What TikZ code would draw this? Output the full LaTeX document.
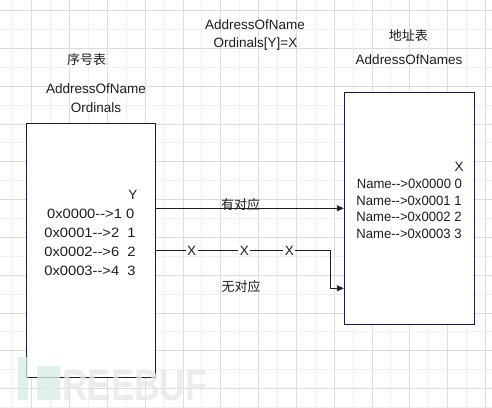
\documentclass[tikz,border=0pt]{standalone}
\usepackage{fontspec}
\setmainfont{Liberation Sans}
\newfontfamily\cjk{Noto Sans CJK SC}
\usetikzlibrary{arrows.meta}
\definecolor{gridminor}{HTML}{F0F0F0}
\definecolor{gridmajor}{HTML}{DCDCDC}
\definecolor{boxline}{HTML}{161B45}
\definecolor{ink}{HTML}{1E1E1E}
\definecolor{wmgreen}{HTML}{D8EDE2}
\definecolor{wmgray}{HTML}{E6E6E6}
\newcommand{\arw}{-{}-{}>}
\tikzset{
  txt/.style={inner sep=0pt, text=ink, font=\fontsize{13.5}{16}\selectfont},
  lefttxt/.style={txt, xscale=1.09},
  righttxt/.style={txt, xscale=0.97},
  cjktxt/.style={inner sep=0pt, text=ink, font=\fontsize{13}{16}\selectfont\cjk},
  tablebox/.style={draw=boxline, fill=white, line width=0.9pt, inner sep=0pt},
  conn/.style={draw=ink, line width=0.8pt},
  arr/.style={conn, -{Triangle[length=7pt,width=6pt]}},
  xmark/.style={txt, fill=white, inner xsep=1.6pt, inner ysep=1pt}
}
\begin{document}
\begin{tikzpicture}[x=1pt,y=-1pt]
\useasboundingbox (0,0) rectangle (492,407);
\fill[white] (0,0) rectangle (492,407);
% grid
\foreach \k in {0,...,12} {
  \draw[gridminor, line width=0.7pt] ({12.8+37.8*\k},0) -- ({12.8+37.8*\k},407);
  \draw[gridmajor, line width=0.7pt] ({31.7+37.8*\k},0) -- ({31.7+37.8*\k},407);
}
\foreach \k in {0,...,10} {
  \draw[gridminor, line width=0.7pt] (0,{29.4+37.8*\k}) -- (492,{29.4+37.8*\k});
  \draw[gridmajor, line width=0.7pt] (0,{10.5+37.8*\k}) -- (492,{10.5+37.8*\k});
}
% boxes
\node[tablebox, minimum width=128.6pt, minimum height=253.7pt] (L) at (91,250.15) {};
\node[tablebox, minimum width=130pt, minimum height=231.7pt] (R) at (409.3,208.15) {};
% titles
\node[cjktxt] (t1) at (86.7,60) {序号表};
\node[txt] (t2) at (96,88.3) {AddressOfName};
\node[txt] (t3) at (96,107.3) {Ordinals};
\node[txt] (t4) at (255,25) {AddressOfName};
\node[txt] (t5) at (255.5,44.3) {Ordinals[Y]=X};
\node[cjktxt] (t6) at (408.3,36) {地址表};
\node[txt] (t7) at (409,59.3) {AddressOfNames};
% left table text
\node[txt] (ly) at (133,195) {Y};
\node[lefttxt] (l0) at (90.7,214) {0x0000\arw1 0};
\node[lefttxt] (l1) at (90,232.7) {0x0001\arw2\ \ 1};
\node[lefttxt] (l2) at (90,251.7) {0x0002\arw6\ \ 2};
\node[lefttxt] (l3) at (90,270.7) {0x0003\arw4\ \ 3};
% right table text
\node[txt] (rx) at (459,166.7) {X};
\node[righttxt] (r0) at (409.4,183.7) {Name\arw0x0000 0};
\node[righttxt] (r1) at (409,200.7) {Name\arw0x0001 1};
\node[righttxt] (r2) at (409,217.3) {Name\arw0x0002 2};
\node[righttxt] (r3) at (409,234) {Name\arw0x0003 3};
% connectors
\draw[arr] (L.east |- 0,208.3) -- (R.west |- 0,208.3);
\node[cjktxt] (c1) at (240.5,205) {有对应};
\coordinate (bend) at (330.3,250.7);
\draw[arr] (L.east |- 0,250.7) -- (bend) |- (R.west |- 0,288.3);
\node[xmark] (x1) at (191.7,250.7) {X};
\node[xmark] (x2) at (244.3,250.7) {X};
\node[xmark] (x3) at (289.3,250.7) {X};
\node[cjktxt] (c2) at (241,286.7) {无对应};
% watermark
\begin{scope}[opacity=0.75]
\fill[wmgreen] (18.3,357.3) rectangle (28.3,400);
\fill[wmgreen] (37.3,365.7) rectangle (60,400);
\node[inner sep=0pt, anchor=base west, text=wmgray, font=\fontsize{44}{44}\selectfont\bfseries, xscale=0.8] (wm) at (62,400) {REEBUF};
\end{scope}
\end{tikzpicture}
\end{document}
